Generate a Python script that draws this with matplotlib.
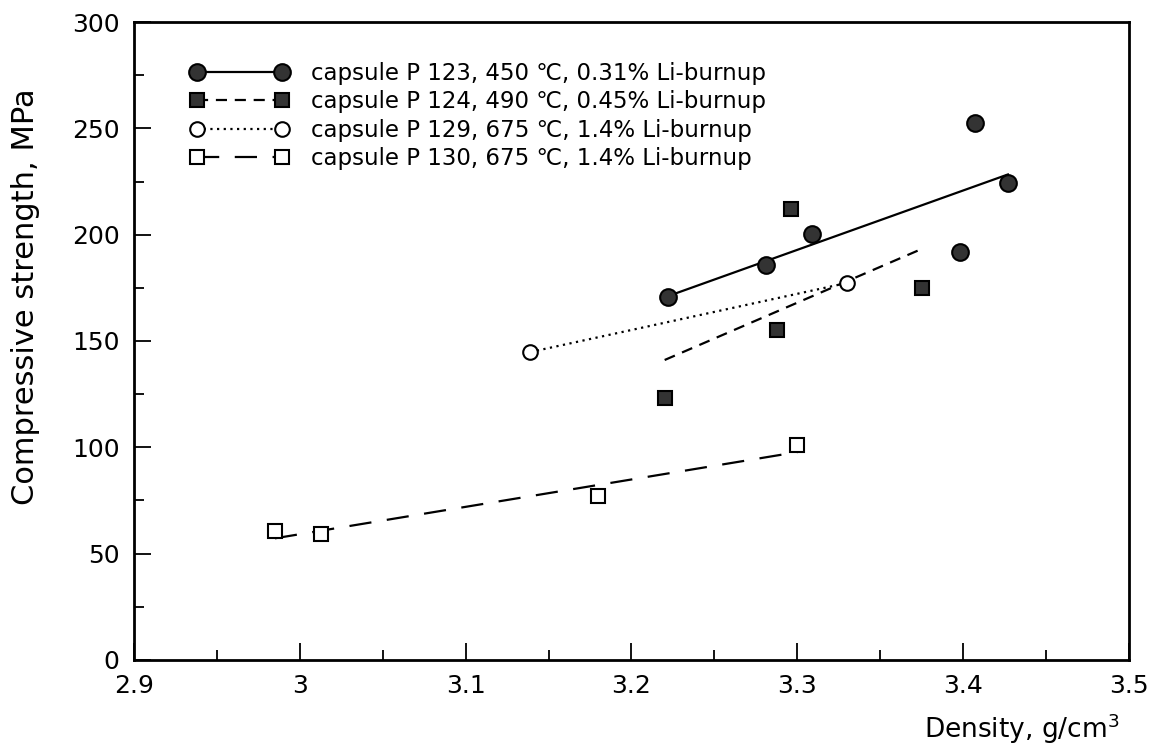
import numpy as np
import matplotlib
matplotlib.use('Agg')
import matplotlib.pyplot as plt
from matplotlib.ticker import MultipleLocator, FuncFormatter

plt.rcParams['font.family'] = ['DejaVu Sans']

# data: density (g/cm3) and compressive strength (MPa)
p123_x = [3.222, 3.281, 3.309, 3.398, 3.407, 3.427]
p123_y = [170.7, 185.7, 200.3, 191.8, 252.5, 224.3]

p124_x = [3.220, 3.288, 3.296, 3.375]
p124_y = [123.0, 155.0, 212.0, 175.0]

p129_x = [3.139, 3.330]
p129_y = [144.8, 177.3]

p130_x = [2.985, 3.013, 3.180, 3.300]
p130_y = [60.6, 59.2, 77.3, 101.0]

labels = ['capsule P 123, 450 \u2103, 0.31% Li-burnup',
          'capsule P 124, 490 \u2103, 0.45% Li-burnup',
          'capsule P 129, 675 \u2103, 1.4% Li-burnup',
          'capsule P 130, 675 \u2103, 1.4% Li-burnup']

fig = plt.figure(figsize=(11.49, 7.46), dpi=100)
ax = fig.add_axes([0.1166, 0.1153, 0.866, 0.8552])

fill = '#333333'
series = [
    (p123_x, p123_y, 'o', fill, '-', 12),
    (p124_x, p124_y, 's', fill, (0, (5, 3.5)), 10),
    (p129_x, p129_y, 'o', 'white', (0, (1, 2)), 10.5),
    (p130_x, p130_y, 's', 'white', (0, (10, 7)), 10),
]

handles = []
for xs, ys, mk, fc, ls, ms in series:
    xs = np.array(xs)
    ys = np.array(ys)
    # least squares line over the data range
    k, b = np.polyfit(xs, ys, 1)
    xl = np.array([xs.min(), xs.max()])
    ax.plot(xl, k * xl + b, color='black', linestyle=ls, linewidth=1.6, zorder=2)
    ax.plot(xs, ys, linestyle='none', marker=mk, markersize=ms,
            markerfacecolor=fc, markeredgecolor='black', markeredgewidth=1.5, zorder=3)
    h, = ax.plot([], [], color='black', linestyle=ls, linewidth=1.6, marker=mk,
                 markersize=ms, markerfacecolor=fc, markeredgecolor='black',
                 markeredgewidth=1.5)
    handles.append(h)

ax.set_xlim(2.9, 3.5)
ax.set_ylim(0, 300)
ax.xaxis.set_major_locator(MultipleLocator(0.1))
ax.xaxis.set_minor_locator(MultipleLocator(0.05))
ax.yaxis.set_major_locator(MultipleLocator(50))
ax.yaxis.set_minor_locator(MultipleLocator(25))
ax.xaxis.set_major_formatter(FuncFormatter(lambda v, p: '%g' % round(v, 2)))

ax.tick_params(which='both', direction='in', top=False, right=False, labelsize=18, width=1.3)
ax.tick_params(which='major', length=12, pad=10)
ax.tick_params(which='minor', length=7)
ax.tick_params(axis='y', pad=10.5)
for s in ax.spines.values():
    s.set_linewidth(2.0)

ax.set_xlabel('Density, g/cm$^3$', fontsize=19, loc='right')
ax.xaxis.set_label_coords(0.99, -0.08)
ax.set_ylabel('Compressive strength, MPa', fontsize=22)
ax.yaxis.set_label_coords(-0.094, 0.57)

ax.legend(handles, labels, loc='upper left', bbox_to_anchor=(0.0563, 0.937),
          frameon=False, fontsize=16.5, handlelength=4.3, handletextpad=1.0,
          labelspacing=0.23, borderpad=0, borderaxespad=0, numpoints=2)

fig.savefig('out.png', dpi=100)
